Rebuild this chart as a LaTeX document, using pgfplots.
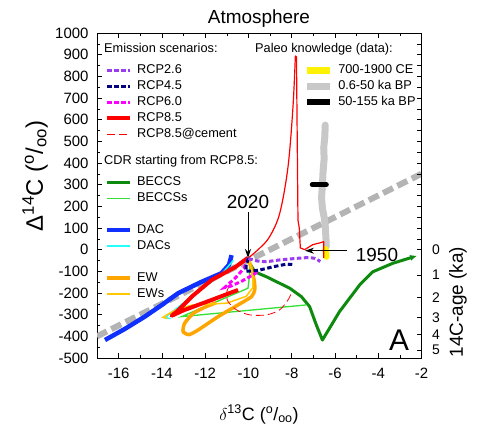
\documentclass[border=0pt]{standalone}
\usepackage{fontspec}
\setmainfont{Liberation Sans}
\usepackage{pgfplots}
\pgfplotsset{compat=1.18}
\usetikzlibrary{arrows.meta}

\definecolor{cPurple}{HTML}{9A3CF0}
\definecolor{cNavy}{HTML}{000080}
\definecolor{cMag}{HTML}{FF00FF}
\definecolor{cGreenD}{HTML}{0E8A0E}
\definecolor{cGreenL}{HTML}{33E033}
\definecolor{cBlue}{HTML}{1030FF}
\definecolor{cCyan}{HTML}{22FFFF}
\definecolor{cOrange}{HTML}{FFA500}
\definecolor{cGold}{HTML}{FFC800}
\definecolor{cSuess}{HTML}{B4B4B4}
\definecolor{cPaleo}{HTML}{C8C8C8}

\tikzset{rcpdash/.style={line width=3bp, dash pattern=on 4.5bp off 2.5bp}}

\pgfplotsset{
  mylegend/.style={
    legend cell align=left,
    legend image code/.code={\draw[##1] (0bp,0bp) -- (23bp,0bp);},
    legend style={draw=none, fill=none, anchor=north west,
      font=\fontsize{12.8}{14}\selectfont, row sep=0pt, column sep=5bp, inner sep=0pt,
      nodes={inner sep=0pt, text height=11bp, text depth=5bp}},
  },
  base/.style={
    at={(0,0)}, anchor=south west,
    scale only axis, width=324.5bp, height=325bp,
    xmin=-17, xmax=-2, ymin=-500, ymax=1000,
    tick align=inside,
    major tick length=5bp, minor tick length=3bp,
    tick style={black, line width=0.6bp},
    axis line style={line width=0.8bp},
    /pgf/number format/assume math mode=true,
    /pgf/number format/1000 sep={},
  },
}

\begin{document}
\begin{tikzpicture}
\path[use as bounding box] (-97bp,-69bp) rectangle (387bp,358bp);
\begin{axis}[base, mylegend,
  xtick={-16,-14,...,-2}, minor x tick num=1,
  ytick={-500,-400,...,1000}, minor y tick num=1,
  xtick pos=both, ytick pos=left,
  tick label style={font=\fontsize{15}{15}\selectfont},
  xticklabel style={yshift=-7bp},
  yticklabel style={xshift=-5bp},
  legend style={at={(0.0247,0.96)}},
]
% legend (left column)
\addlegendimage{empty legend}\addlegendentry{}
\addlegendimage{cPurple, rcpdash}\addlegendentry{RCP2.6}
\addlegendimage{cNavy, rcpdash}\addlegendentry{RCP4.5}
\addlegendimage{cMag, rcpdash}\addlegendentry{RCP6.0}
\addlegendimage{red, line width=4bp}\addlegendentry{RCP8.5}
\addlegendimage{red, line width=0.8bp, dash pattern=on 8bp off 4bp}\addlegendentry{RCP8.5@cement}
\addlegendimage{empty legend}\addlegendentry{}
\addlegendimage{empty legend}\addlegendentry{}
\addlegendimage{cGreenD, line width=3bp}\addlegendentry{BECCS}
\addlegendimage{cGreenL, line width=1.3bp}\addlegendentry{BECCSs}
\addlegendimage{empty legend}\addlegendentry{}
\addlegendimage{cBlue, line width=4bp}\addlegendentry{DAC}
\addlegendimage{cCyan, line width=1.5bp}\addlegendentry{DACs}
\addlegendimage{empty legend}\addlegendentry{}
\addlegendimage{cOrange, line width=3.5bp}\addlegendentry{EW}
\addlegendimage{cGold, line width=1.5bp}\addlegendentry{EWs}

% Suess line
\addplot[cSuess, line width=6bp, dash pattern=on 11bp off 5bp, forget plot] coordinates {(-17,-400) (-2,350)};

% paleo data
\addplot[cPaleo, line width=7bp, line cap=round, line join=round, forget plot] coordinates {
(-6.45,575) (-6.47,520) (-6.52,470) (-6.50,420) (-6.55,360) (-6.58,300) (-6.62,240) (-6.58,190) (-6.50,150) (-6.45,110) (-6.42,60) (-6.40,15)};
\addplot[black, line width=5bp, line cap=round, forget plot] coordinates {(-7.05,300) (-6.40,300)};
\addplot[yellow, line width=6.5bp, line cap=round, forget plot] coordinates {(-6.44,2) (-6.40,-32)};

% historical (thin red)
\addplot[red, line width=1.2bp, line join=round, forget plot] coordinates {
(-6.52,-38) (-6.52,37) (-6.71,31) (-7.03,23) (-7.40,0) (-7.60,8) (-7.65,100) (-7.71,137) (-7.78,890) (-7.83,895)};
\addplot[red, line width=1.2bp, smooth, tension=0.55, forget plot] coordinates {
(-7.83,895) (-7.94,660) (-8.17,383) (-8.55,169) (-9.02,60) (-9.50,5) (-10.05,-42)};

% CDR
\addplot[cGreenD, line width=3bp, line join=round, -{Latex[length=7bp,width=6bp]}, forget plot] coordinates {
(-9.90,-70) (-9.71,-102) (-9.17,-125) (-8.09,-178) (-7.55,-217) (-7.17,-263) (-6.86,-348) (-6.58,-417)
(-5.79,-286) (-4.86,-163) (-4.25,-102) (-3.33,-63) (-2.20,-28)};
\addplot[cGreenL, line width=1.3bp, forget plot] coordinates {
(-9.95,-60) (-9.95,-120) (-10.02,-178) (-13.09,-309) (-7.32,-255)};
\addplot[cBlue, line width=4.5bp, line join=round, forget plot] coordinates {
(-10.78,-25) (-10.83,-45) (-10.90,-70) (-11.25,-109) (-12.20,-150) (-13.25,-201) (-14.00,-255) (-14.79,-309) (-15.70,-365) (-16.63,-417)};
\addplot[cCyan, line width=1.5bp, forget plot] coordinates {
(-10.70,-50) (-11.30,-120) (-12.30,-190) (-13.20,-262) (-13.70,-300) (-13.82,-315) (-13.60,-318)};
\addplot[cOrange, line width=3.5bp, line join=round, smooth, tension=0.4, forget plot] coordinates {
(-10.00,-45) (-9.85,-90) (-9.72,-150) (-9.71,-186) (-9.86,-217) (-10.48,-255) (-11.40,-309) (-12.33,-371) (-12.75,-392) (-13.02,-378) (-12.95,-340) (-12.55,-294) (-12.00,-265) (-11.50,-245)};
\addplot[cGold, line width=1.5bp, forget plot] coordinates {
(-9.95,-55) (-9.80,-120) (-9.80,-175) (-10.10,-215) (-11.00,-247) (-12.56,-255) (-13.30,-275) (-13.78,-301) (-13.95,-312) (-13.75,-318)};

% RCP8.5 thick
\addplot[red, line width=4bp, line join=round, forget plot] coordinates {
(-10.03,-38) (-10.60,-80) (-11.70,-140) (-12.60,-215) (-13.30,-285) (-13.55,-305) (-13.00,-280) (-11.70,-232) (-10.48,-186)};
% RCP8.5@cement
\addplot[red, line width=0.8bp, dash pattern=on 8bp off 4bp, smooth, forget plot] coordinates {
(-10.90,-170) (-11.01,-200) (-10.94,-240) (-10.55,-278) (-9.94,-301) (-9.17,-301) (-8.56,-278) (-8.17,-232) (-8.02,-201)};
% RCP6.0
\addplot[cMag, rcpdash, forget plot] coordinates {
(-10.00,-40) (-10.20,-85) (-10.60,-130) (-11.10,-175) (-10.80,-168) (-10.30,-145) (-9.80,-117) (-9.55,-100)};
% RCP4.5
\addplot[cNavy, rcpdash, forget plot] coordinates {
(-10.00,-40) (-10.10,-70) (-10.12,-100) (-9.80,-98) (-9.48,-94) (-8.86,-79) (-8.25,-67) (-7.95,-68)};
% RCP2.6
\addplot[cPurple, rcpdash, smooth, forget plot] coordinates {
(-10.00,-40) (-9.60,-52) (-9.17,-55) (-8.60,-48) (-8.09,-43) (-7.32,-37) (-6.94,-40) (-6.68,-55)};
\end{axis}

\begin{axis}[base, mylegend,
  axis x line=none, axis y line*=right,
  ytick={0,-117.0,-220.4,-311.7,-392.2,-463.4},
  yticklabels={0,1,2,3,4,5},
  extra y ticks={50,100,...,1000}, extra y tick labels={},
  yticklabel style={font=\fontsize{14}{14}\selectfont, xshift=7bp},
  legend style={at={(0.635,0.9108)}},
]
\addplot[draw=none, forget plot] coordinates {(-10,0)};
\addlegendimage{yellow, line width=7bp}\addlegendentry{700-1900 CE}
\addlegendimage{cPaleo, line width=7bp}\addlegendentry{0.6-50 ka BP}
\addlegendimage{black, line width=6bp}\addlegendentry{50-155 ka BP}
\end{axis}

% headers and annotations
\node[anchor=base west, font=\fontsize{12.8}{14}\selectfont, inner sep=0] at (7bp,305.5bp) {Emission scenarios:};
\node[anchor=base west, font=\fontsize{12.8}{14}\selectfont, inner sep=0] at (7bp,193.4bp) {CDR starting from RCP8.5:};
\node[anchor=base west, font=\fontsize{12.8}{14}\selectfont, inner sep=0] at (158bp,305.5bp) {Paleo knowledge (data):};
\node[anchor=base, font=\fontsize{19}{19}\selectfont, inner sep=0] at (162bp,334bp) {Atmosphere};
\node[anchor=base, font=\fontsize{19}{19}\selectfont, inner sep=0] at (151bp,149bp) {2020};
\draw[line width=1bp, -{Stealth[length=9bp,width=6bp]}] (151bp,146bp) -- (151bp,100bp);
\node[anchor=base, font=\fontsize{19}{19}\selectfont, inner sep=0] at (280bp,96bp) {1950};
\draw[line width=1bp, -{Stealth[length=9bp,width=6bp]}] (250bp,107.3bp) -- (208bp,107.3bp);
\node[font=\fontsize{30}{30}\selectfont, inner sep=0] at (302bp,18bp) {A};
\node[rotate=90, font=\fontsize{24}{24}\selectfont, inner sep=0] at (-62bp,182bp) {Δ\textsuperscript{14}C (\textsuperscript{o}/\textsubscript{oo})};
\node[anchor=base, font=\fontsize{18}{18}\selectfont, inner sep=0] at (162bp,-62bp) {$\delta$\textsuperscript{13}C (\textsuperscript{o}/\textsubscript{oo})};
\node[rotate=90, font=\fontsize{19}{19}\selectfont, inner sep=0] at (361bp,56bp) {14C-age (ka)};
\end{tikzpicture}
\end{document}
